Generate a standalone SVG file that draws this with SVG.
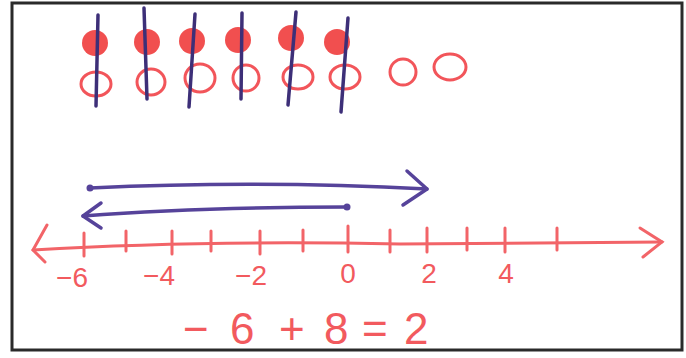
<svg xmlns="http://www.w3.org/2000/svg" width="686" height="358" viewBox="0 0 686 358">
<style>
.red{fill:#f03c3c;opacity:0.9}
.ring{fill:none;stroke:#f2555a;stroke-width:3}
.slash{stroke:#3d2f78;stroke-width:3.5;stroke-linecap:round;fill:none}
.pl{stroke:#f26468;stroke-width:3;stroke-linecap:round;fill:none}
.pu{stroke:#56439a;stroke-width:3.5;stroke-linecap:round;stroke-linejoin:round;fill:none}
.lbl{font-family:"Liberation Sans",Arial,sans-serif;font-size:28px;fill:#f25a5e;text-anchor:middle}
.eq{font-family:"Liberation Sans",Arial,sans-serif;font-size:44px;fill:#f25a5e}
</style>
<rect width="686" height="358" fill="#ffffff"/>
<rect x="12" y="3" width="670" height="347" fill="none" stroke="#2a2a2a" stroke-width="3"/>
<g id="counters">
<circle class="red" cx="95" cy="43" r="13"/>
<circle class="red" cx="147" cy="42" r="13"/>
<circle class="red" cx="192" cy="41" r="13"/>
<circle class="red" cx="238" cy="40" r="13"/>
<circle class="red" cx="291" cy="38" r="13"/>
<circle class="red" cx="337" cy="42" r="13"/>
<ellipse class="ring" cx="96" cy="84" rx="15" ry="12"/>
<ellipse class="ring" cx="151" cy="82" rx="14" ry="13"/>
<ellipse class="ring" cx="200" cy="78" rx="15" ry="14"/>
<ellipse class="ring" cx="246" cy="78" rx="13" ry="13"/>
<ellipse class="ring" cx="298" cy="77" rx="15" ry="12"/>
<ellipse class="ring" cx="345" cy="77" rx="15" ry="12"/>
<ellipse class="ring" cx="403" cy="72" rx="13" ry="13"/>
<ellipse class="ring" cx="450" cy="67" rx="16" ry="13"/>
<path class="slash" d="M98 15 L96 106"/>
<path class="slash" d="M144 8 L147 99"/>
<path class="slash" d="M195 14 L189 107"/>
<path class="slash" d="M242 13 L241 99"/>
<path class="slash" d="M296 12 L288 105"/>
<path class="slash" d="M348 18 L341 112"/>
</g>
<g id="numberline">
<path class="pl" d="M33 250 Q200 240 400 244 L662 242"/>
<path class="pl" d="M47 225 L33 250 L45 262"/>
<path class="pl" d="M640 228 L662 242 L643 257"/>
<path class="pl" d="M84 233 V256 M126 231 V251 M172 231 V254 M211 231 V251 M260 231 V254 M303 230 V251 M348 226 V252 M390 230 V252 M427 228 V252 M467 228 V250 M505 228 V252 M557 228 V250"/>
</g>
<g id="labels">
<text class="lbl" x="72" y="287">−6</text>
<text class="lbl" x="159" y="285">−4</text>
<text class="lbl" x="251" y="285">−2</text>
<text class="lbl" x="348" y="283">0</text>
<text class="lbl" x="429" y="283">2</text>
<text class="lbl" x="506" y="283">4</text>
</g>
<g id="connectors">
<path class="pu" d="M90 188 Q260 180 427 189"/>
<circle cx="90" cy="188" r="3.5" fill="#56439a"/>
<path class="pu" d="M407 171 L427 189 L403 205"/>
<path class="pu" d="M347 207 Q200 207 83 216"/>
<circle cx="347" cy="207" r="3.5" fill="#56439a"/>
<path class="pu" d="M101 203 L83 216 L101 228"/>
</g>
<g id="equation">
<text class="eq" y="344"><tspan x="183">−</tspan><tspan x="230">6</tspan><tspan x="279">+</tspan><tspan x="324">8</tspan><tspan x="362">=</tspan><tspan x="404">2</tspan></text>
</g>
</svg>
